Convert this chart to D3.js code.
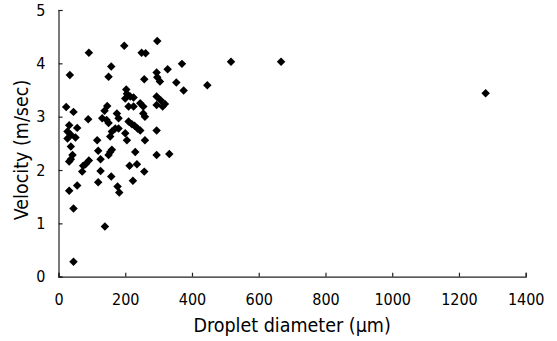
<!DOCTYPE html>
<html><head><meta charset="utf-8">
<script src="https://cdn.jsdelivr.net/npm/d3@7"></script>
<style>html,body{margin:0;padding:0;background:#fff;}svg{display:block;}</style>
</head><body>
<script>
const diameter = [296,197,91,249,261,158,370,327,34,150,294,296,304,257,353,375,203,205,200,215,225,294,306,319,294,312,245,254,210,225,146,138,23,45,254,259,175,180,131,144,150,89,32,56,210,220,228,237,245,170,180,160,294,27,37,51,27,155,200,205,259,116,37,119,150,155,160,230,294,332,42,37,32,126,91,81,74,235,213,71,126,257,158,223,119,177,182,32,56,45,139,45,517,667,446,1280];
const velocity = [4.42,4.33,4.20,4.20,4.19,3.94,3.99,3.89,3.78,3.75,3.83,3.74,3.66,3.70,3.64,3.49,3.51,3.43,3.34,3.38,3.36,3.38,3.31,3.24,3.22,3.19,3.25,3.19,3.19,3.19,3.20,3.11,3.18,3.09,3.06,3.00,3.06,2.97,2.97,2.94,2.88,2.95,2.84,2.79,2.91,2.86,2.83,2.78,2.74,2.78,2.78,2.72,2.74,2.72,2.66,2.61,2.59,2.63,2.69,2.56,2.56,2.56,2.44,2.36,2.28,2.34,2.38,2.34,2.28,2.30,2.28,2.20,2.16,2.20,2.18,2.11,2.08,2.11,2.08,1.97,1.98,1.97,1.88,1.80,1.77,1.69,1.58,1.61,1.71,1.28,0.94,0.28,4.03,4.03,3.59,3.44];
const xTicks = [0,200,400,600,800,1000,1200,1400];
const yTicks = [0,1,2,3,4,5];
const xTitle = "Droplet diameter (\u03bcm)";
const yTitle = "Velocity (m/sec)";

const W = 557, H = 341;
const font = "'DejaVu Sans Condensed','DejaVu Sans',sans-serif";
const svg = d3.select("body").append("svg").attr("width", W).attr("height", H);
const x = d3.scaleLinear().domain([0,1400]).range([58.5,525.7]);
const y = d3.scaleLinear().domain([0,5]).range([276.7,10]);

const gx = svg.append("g").attr("transform", `translate(0,${y(0)})`)
  .call(d3.axisBottom(x).tickValues(xTicks).tickSize(-4).tickPadding(17).tickSizeOuter(-4).tickFormat(d3.format("d")));
const gy = svg.append("g").attr("transform", `translate(${x(0)},0)`)
  .call(d3.axisLeft(y).tickValues(yTicks).tickSize(-4).tickPadding(13).tickSizeOuter(-4).tickFormat(d3.format("d")));
[gx, gy].forEach(g => {
  g.select(".domain").attr("stroke", "#222").attr("stroke-width", 1.2);
  g.selectAll(".tick line").attr("stroke", "#222").attr("stroke-width", 1.2);
  g.selectAll(".tick text").attr("fill", "#000").style("font-family", font).style("font-size", "16px");
});

const sym = d3.symbol().type(d3.symbolSquare).size(36);
svg.append("g").selectAll("path").data(diameter.map((d,i)=>[d, velocity[i]])).join("path")
  .attr("d", sym)
  .attr("transform", d => `translate(${x(d[0])},${y(d[1])}) rotate(45)`)
  .attr("fill", "#000");

svg.append("text").attr("x", (x(0)+x(1400))/2).attr("y", 332).attr("text-anchor","middle")
  .style("font-family", font).style("font-size","19.5px").attr("fill","#000").text(xTitle);
svg.append("text").attr("transform", `translate(28,150) rotate(-90)`).attr("text-anchor","middle")
  .style("font-family", font).style("font-size","19.5px").attr("fill","#000").text(yTitle);
</script>
</body></html>
